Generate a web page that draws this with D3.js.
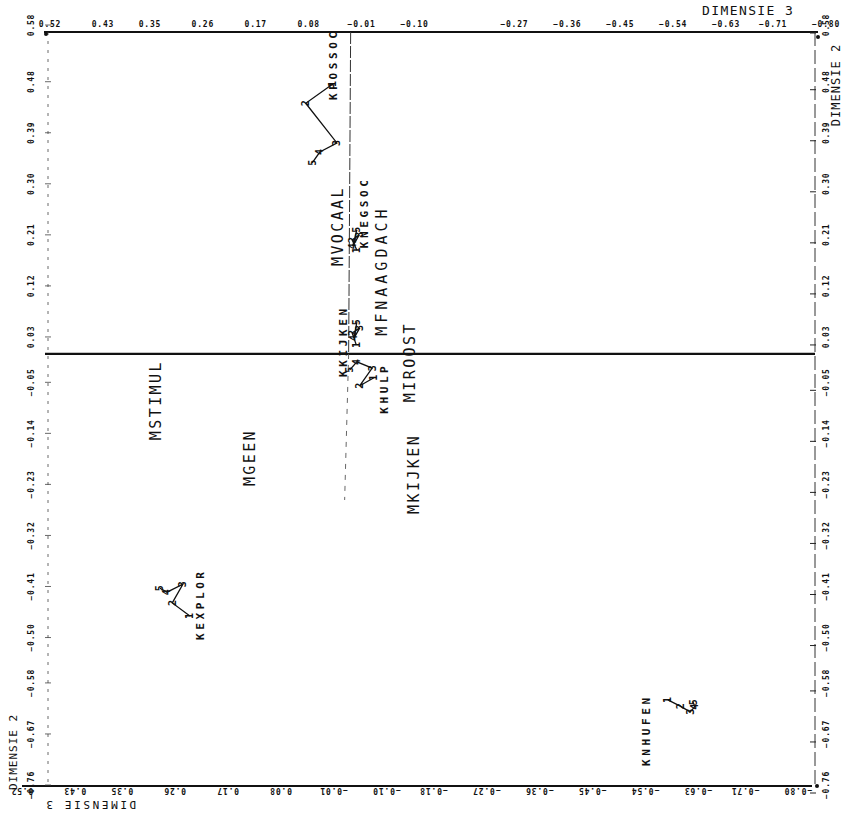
<!DOCTYPE html>
<html>
<head>
<meta charset="utf-8">
<script src="https://cdn.jsdelivr.net/npm/d3@7"></script>
<style>
  body { margin: 0; background: #fff; }
  svg { display: block; }
  text { font-family: "DejaVu Sans Mono", "Liberation Mono", monospace; fill: #111; }
</style>
</head>
<body>
<div class="plot"></div>
<script>
// tick labels as printed on the plot
const dim3Ticks = [0.52, 0.43, 0.35, 0.26, 0.17, 0.08, -0.01, -0.10, -0.18, -0.27, -0.36, -0.45, -0.54, -0.63, -0.71, -0.80];
const dim3TopSkip = [-0.18]; // not printed on the top row
const dim2Ticks = [0.58, 0.48, 0.39, 0.30, 0.21, 0.12, 0.03, -0.05, -0.14, -0.23, -0.32, -0.41, -0.50, -0.58, -0.67, -0.76];

// single points (mother behaviour), label starts at the point
const motherNames = ["MVOCAAL", "MFNAAGDACH", "MIROOST", "MKIJKEN", "MSTIMUL", "MGEEN"];
const motherDim3 = [0.030, -0.045, -0.092, -0.099, 0.340, 0.180];
const motherDim2 = [0.155, 0.032, -0.085, -0.282, -0.152, -0.233];

// trajectories (child behaviour), 5 points each
const childNames = ["KPOSSOC", "KNEGSOC", "KKIJKEN", "KHULP", "KEXPLOR", "KNHUFEN"];
const childDim3 = [
  [0.039, 0.085, 0.032, 0.061, 0.074],
  [-0.002, 0.006, -0.006, 0.005, -0.002],
  [-0.001, 0.006, -0.007, 0.003, -0.002],
  [-0.031, -0.007, -0.028, -0.002, 0.010],
  [0.282, 0.312, 0.294, 0.321, 0.333],
  [-0.531, -0.552, -0.569, -0.577, -0.574]
];
const childDim2 = [
  [0.476, 0.442, 0.372, 0.356, 0.337],
  [0.183, 0.201, 0.210, 0.190, 0.219],
  [0.016, 0.037, 0.046, 0.028, 0.056],
  [-0.042, -0.056, -0.025, -0.014, -0.028],
  [-0.462, -0.439, -0.406, -0.420, -0.413],
  [-0.610, -0.621, -0.631, -0.622, -0.614]
];

const width = 842, height = 814;
const svg = d3.select(".plot").append("svg")
    .attr("width", width)
    .attr("height", height);

const x = d3.scaleLinear().domain([0.52, -0.80]).range([50, 826]);
const y = d3.scaleLinear().domain([0.58, -0.76]).range([25, 785]);
const fmt = d3.format(".2f");

// frame
const frameTop = 32, frameBottom = 786, frameLeft = 48, frameRight = 815;
svg.append("line").attr("x1", 44).attr("x2", 818).attr("y1", frameTop).attr("y2", frameTop)
    .attr("stroke", "#111").attr("stroke-width", 2);
svg.append("line").attr("x1", 22).attr("x2", 812).attr("y1", frameBottom).attr("y2", frameBottom)
    .attr("stroke", "#111").attr("stroke-width", 1.8);
svg.append("line").attr("x1", frameLeft).attr("x2", frameLeft).attr("y1", frameTop).attr("y2", frameBottom)
    .attr("stroke", "#444").attr("stroke-width", 0.8).attr("stroke-dasharray", "3,6");
svg.append("line").attr("x1", frameRight).attr("x2", frameRight).attr("y1", frameTop).attr("y2", frameBottom)
    .attr("stroke", "#333").attr("stroke-width", 1).attr("stroke-dasharray", "14,4");

// zero axes (the printed vertical reference sits slightly left of zero)
const vLineX = x(0.012);
svg.append("line").attr("x1", 45).attr("x2", frameRight).attr("y1", y(0)).attr("y2", y(0))
    .attr("stroke", "#111").attr("stroke-width", 2.2);
svg.append("line").attr("x1", vLineX + 2).attr("x2", vLineX).attr("y1", frameTop).attr("y2", y(0))
    .attr("stroke", "#333").attr("stroke-width", 1).attr("stroke-dasharray", "12,2");
svg.append("line").attr("x1", vLineX).attr("x2", vLineX - 4).attr("y1", y(0)).attr("y2", 500)
    .attr("stroke", "#555").attr("stroke-width", 0.9).attr("stroke-dasharray", "5,6");

// corner markers
[[frameLeft - 2, frameTop + 2], [frameRight + 3, frameTop + 5], [frameRight + 2, frameBottom]].forEach(p => {
  svg.append("circle").attr("cx", p[0]).attr("cy", p[1]).attr("r", 2).attr("fill", "#111");
});

// top tick labels
svg.append("g").selectAll("text")
  .data(dim3Ticks.filter(v => !dim3TopSkip.includes(v)))
  .join("text")
    .attr("x", d => x(d))
    .attr("y", 27)
    .attr("text-anchor", "middle")
    .attr("font-size", 8)
    .attr("font-weight", "bold")
    .attr("letter-spacing", 0.8)
    .text(d => fmt(d));

// bottom tick labels (printed upside down)
svg.append("g").selectAll("text")
  .data(dim3Ticks)
  .join("text")
    .attr("transform", d => `translate(${x(d) - 28},${frameBottom + 5}) rotate(180)`)
    .attr("text-anchor", "middle")
    .attr("dy", "0.35em")
    .attr("font-size", 8)
    .attr("font-weight", "bold")
    .attr("letter-spacing", 0.8)
    .text(d => fmt(d));

// left and right tick labels (rotated)
[31, 826].forEach(px => {
  svg.append("g").selectAll("text")
    .data(dim2Ticks)
    .join("text")
      .attr("transform", d => `translate(${px},${y(d)}) rotate(-90)`)
      .attr("text-anchor", "middle")
      .attr("dy", "0.35em")
      .attr("font-size", 8)
      .attr("font-weight", "bold")
      .attr("letter-spacing", 0.8)
      .text(d => fmt(d));
});

// small ticks on the side frames
svg.append("g").selectAll("line")
  .data(dim2Ticks)
  .join("line")
    .attr("x1", frameRight - 5).attr("x2", frameRight + 1)
    .attr("y1", d => y(d) + 8).attr("y2", d => y(d) + 8)
    .attr("stroke", "#222").attr("stroke-width", 1);
svg.append("g").selectAll("line")
  .data(dim2Ticks)
  .join("line")
    .attr("x1", frameLeft - 3).attr("x2", frameLeft + 3)
    .attr("y1", d => y(d)).attr("y2", d => y(d))
    .attr("stroke", "#444").attr("stroke-width", 0.8);

// axis titles
svg.append("text").attr("x", 702).attr("y", 15)
    .attr("font-size", 13).attr("letter-spacing", 1.4).text("DIMENSIE 3");
svg.append("text").attr("transform", "translate(836,85) rotate(-90)")
    .attr("text-anchor", "middle").attr("dy", "0.35em")
    .attr("font-size", 12).attr("letter-spacing", 1).text("DIMENSIE 2");
svg.append("text").attr("transform", "translate(13,752) rotate(-90)")
    .attr("text-anchor", "middle").attr("dy", "0.35em")
    .attr("font-size", 11).attr("letter-spacing", 1).text("DIMENSIE 2");
svg.append("text").attr("transform", "translate(90,805) rotate(180)")
    .attr("text-anchor", "middle").attr("dy", "0.35em")
    .attr("font-size", 11).attr("letter-spacing", 2.6).text("DIMENSIE 3");

// mother points: the label is the mark
const wideLabels = ["MFNAAGDACH"];
svg.append("g").selectAll("text")
  .data(motherNames)
  .join("text")
    .attr("transform", (d, i) => `translate(${x(motherDim3[i])},${y(motherDim2[i])}) rotate(-90)`)
    .attr("dy", "0.35em")
    .attr("font-size", 15)
    .attr("letter-spacing", d => wideLabels.includes(d) ? 4 : 2.4)
    .text(d => d);

// child trajectories
const labelShift = {KPOSSOC: [0, 16], KNEGSOC: [7, -2], KKIJKEN: [-13, 32], KHULP: [10, 36], KEXPLOR: [10, 24], KNHUFEN: [-22, 66]};
const line = d3.line();
childNames.forEach((name, i) => {
  const pts = childDim3[i].map((v, j) => [x(v), y(childDim2[i][j])]);
  const g = svg.append("g");
  g.append("path")
    .attr("d", line(pts))
    .attr("fill", "none")
    .attr("stroke", "#111")
    .attr("stroke-width", 1.3);
  g.selectAll("text.step")
    .data(pts)
    .join("text")
      .attr("class", "step")
      .attr("transform", p => `translate(${p[0]},${p[1]}) rotate(-90)`)
      .attr("text-anchor", "middle")
      .attr("dy", "0.35em")
      .attr("font-size", 10)
      .attr("font-weight", "bold")
      .text((p, j) => j + 1);
  const s = labelShift[name];
  g.append("text")
    .attr("transform", `translate(${pts[0][0] + s[0]},${pts[0][1] + s[1]}) rotate(-90)`)
    .attr("dy", "0.35em")
    .attr("font-size", 11)
    .attr("font-weight", "bold")
    .attr("letter-spacing", 3.6)
    .text(name);
});
</script>
</body>
</html>
